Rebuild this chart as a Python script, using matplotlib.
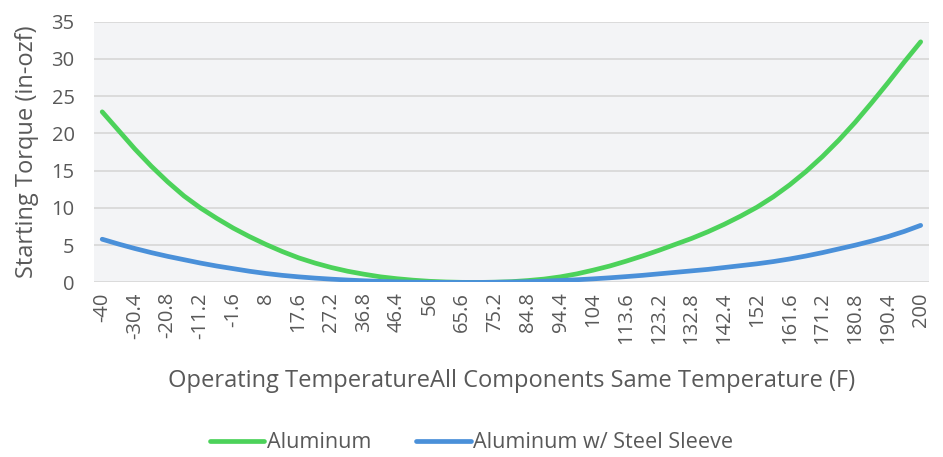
import numpy as np
import matplotlib
matplotlib.use("Agg")
import matplotlib.pyplot as plt

# starting torque, one value every 4.8 F from -40 to 200
aluminum = [22.9, 20.4, 17.9, 15.6, 13.5, 11.6, 10.0, 8.6, 7.3, 6.15,
            5.1, 4.15, 3.3, 2.6, 2.0, 1.5, 1.1, 0.75, 0.5, 0.3,
            0.15, 0.06, 0.01, 0.0, 0.03, 0.1, 0.25, 0.45, 0.75, 1.15,
            1.65, 2.2, 2.85, 3.55, 4.3, 5.1, 5.9, 6.8, 7.8, 8.9,
            10.1, 11.5, 13.1, 14.9, 16.9, 19.1, 21.5, 24.1, 26.8, 29.6,
            32.3]
steel_sleeve = [5.8, 5.15, 4.55, 4.0, 3.5, 3.05, 2.6, 2.2, 1.85, 1.5,
                1.2, 0.95, 0.75, 0.58, 0.44, 0.32, 0.22, 0.14, 0.08, 0.04,
                0.02, 0.0, 0.0, 0.0, 0.02, 0.05, 0.1, 0.17, 0.26, 0.36,
                0.48, 0.62, 0.78, 0.95, 1.15, 1.35, 1.55, 1.75, 2.0, 2.25,
                2.5, 2.8, 3.15, 3.55, 4.0, 4.5, 5.0, 5.55, 6.15, 6.85,
                7.66]
# every other category is labelled
temp_labels = ["-40", "-30.4", "-20.8", "-11.2", "-1.6", "8", "17.6", "27.2",
               "36.8", "46.4", "56", "65.6", "75.2", "84.8", "94.4", "104",
               "113.6", "123.2", "132.8", "142.4", "152", "161.6", "171.2",
               "180.8", "190.4", "200"]

plt.rcParams['font.family'] = ['Open Sans', 'DejaVu Sans']
text_col = "#595959"

fig = plt.figure(figsize=(9.43, 4.57), dpi=100)
ax = fig.add_axes([0.0997, 0.382, 0.8853, 0.5705])
ax.set_facecolor("#F3F4F6")

x = np.arange(len(aluminum))
ax.plot(x, aluminum, color="#4CD25A", lw=3.4, solid_capstyle="round",
        label="Aluminum", zorder=3)
ax.plot(x, steel_sleeve, color="#4A90D9", lw=3.4, solid_capstyle="round",
        label="Aluminum w/ Steel Sleeve", zorder=3)

ax.set_xlim(-0.5, len(aluminum) - 0.5)
ax.set_ylim(0, 35)
ax.set_yticks(range(0, 36, 5))
ax.set_xticks(range(0, len(aluminum), 2))
ax.set_xticklabels(temp_labels, rotation=90)
ax.grid(axis="y", color="#D9D9D9", lw=1.3)
ax.set_axisbelow(True)
for s in ax.spines.values():
    s.set_visible(False)
ax.tick_params(length=0, labelsize=14.5, labelcolor=text_col)
ax.tick_params(axis="x", pad=7)
ax.tick_params(axis="y", pad=14)

ax.set_xlabel("Operating TemperatureAll Components Same Temperature (F)",
              fontsize=17, color=text_col, labelpad=18)
ax.set_ylabel("Starting Torque (in-ozf)", fontsize=17, color=text_col,
              labelpad=9)

fig.legend(loc="lower center", ncol=2, frameon=False, fontsize=15.6,
           labelcolor=text_col, handlelength=2.5, columnspacing=2.1,
           handletextpad=0.1, bbox_to_anchor=(0.5, -0.035))

fig.savefig("out.png", dpi=100)
